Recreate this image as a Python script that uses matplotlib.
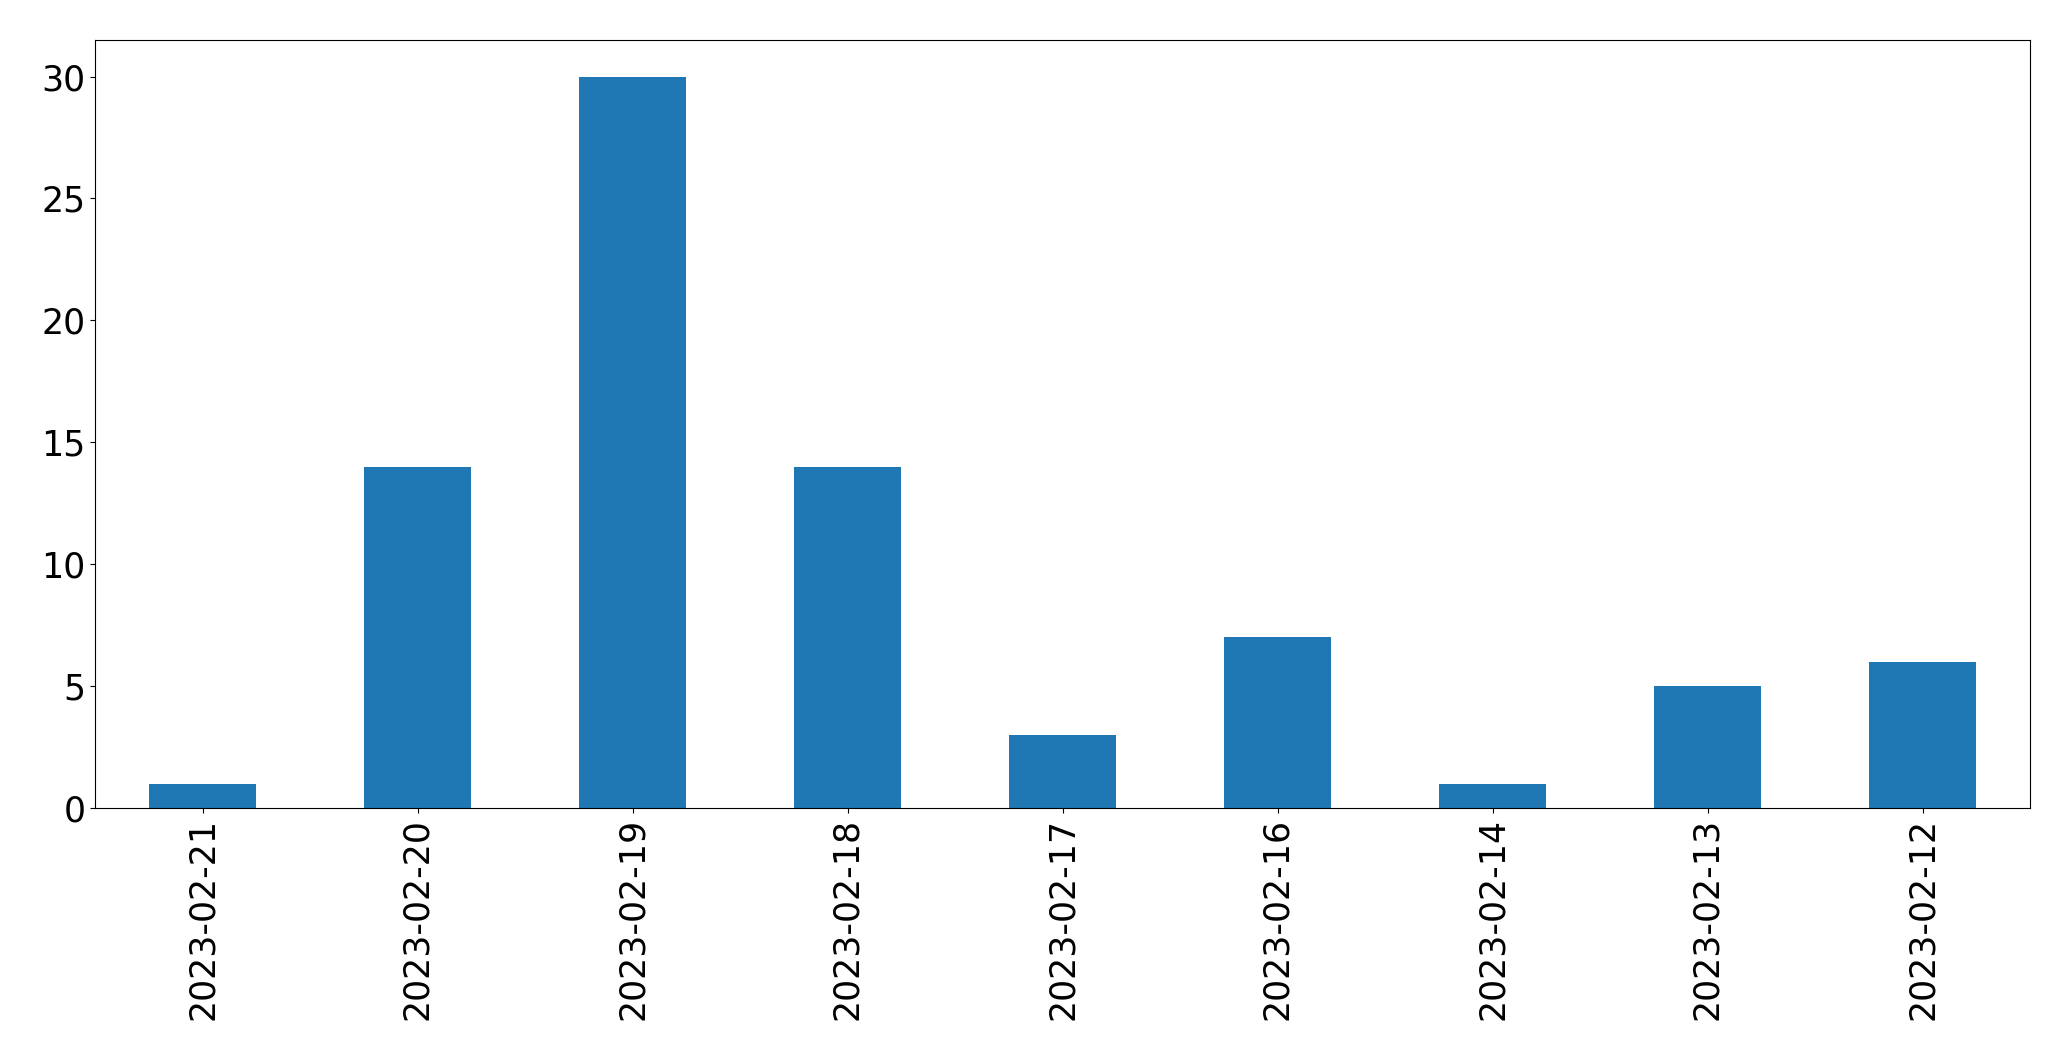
import matplotlib
matplotlib.use("Agg")
import matplotlib.pyplot as plt

dates = ["2023-02-21", "2023-02-20", "2023-02-19", "2023-02-18", "2023-02-17",
         "2023-02-16", "2023-02-14", "2023-02-13", "2023-02-12"]
counts = [1, 14, 30, 14, 3, 7, 1, 5, 6]

fig = plt.figure(figsize=(20.71, 10.61), dpi=100)
ax = fig.add_axes([95 / 2071, 1 - 808 / 1061, (2030 - 95) / 2071, (808 - 40) / 1061])
x = range(len(dates))
ax.bar(x, counts, width=0.5, color="#1f77b4")
ax.set_xlim(-0.5, len(dates) - 0.5)
ax.set_ylim(0, 31.5)
ax.set_xticks(list(x))
ax.set_xticklabels(dates, rotation=90, fontsize=25)
ax.tick_params(axis="y", labelsize=25)
fig.savefig("out.png", dpi=100)
